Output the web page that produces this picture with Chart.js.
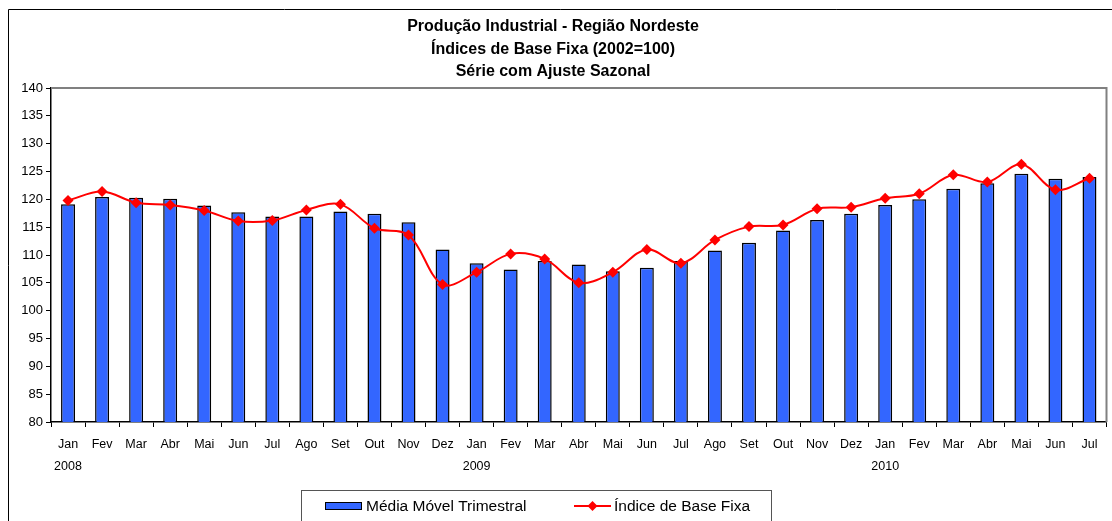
<!DOCTYPE html>
<html>
<head>
<meta charset="utf-8">
<script src="https://cdn.jsdelivr.net/npm/chart.js@4.4.1/dist/chart.umd.min.js"></script>
<style>
  body { margin: 0; background: #fff; }
  canvas { display: block; }
</style>
</head>
<body>
<canvas id="grafico" width="1112" height="521"></canvas>
<script>
const meses = ['Jan','Fev','Mar','Abr','Mai','Jun','Jul','Ago','Set','Out','Nov','Dez',
               'Jan','Fev','Mar','Abr','Mai','Jun','Jul','Ago','Set','Out','Nov','Dez',
               'Jan','Fev','Mar','Abr','Mai','Jun','Jul'];
const anos = { 0: '2008', 12: '2009', 24: '2010' };

const mediaMovel = [119.1,120.4,120.3,120.1,118.9,117.7,116.9,116.9,117.8,117.4,115.9,111.0,
                    108.5,107.4,108.9,108.3,107.1,107.7,108.9,110.8,112.2,114.4,116.3,117.4,
                    119.0,120.0,121.9,122.9,124.6,123.7,124.0];
const indiceBase = [119.8,121.4,119.4,119.0,118.0,116.1,116.2,118.1,119.1,114.8,113.6,104.7,
                    106.9,110.2,109.3,105.0,106.9,111.0,108.5,112.7,115.1,115.4,118.3,118.6,
                    120.2,121.0,124.4,123.1,126.3,121.7,123.8];

const titulo = ['Produção Industrial - Região Nordeste', 'Índices de Base Fixa (2002=100)', 'Série com Ajuste Sazonal'];
const nomeBarras = 'Média Móvel Trimestral';
const nomeLinha = 'Índice de Base Fixa';

const rotulos = meses.map((m, i) => anos[i] ? [m, anos[i]] : m);

Chart.defaults.font.family = "'Liberation Sans', Arial, sans-serif";
Chart.defaults.color = '#000';

const desenhoExtra = {
  id: 'desenhoExtra',
  afterDraw(chart) {
    const ctx = chart.ctx;
    const area = chart.chartArea;
    ctx.save();
    // moldura externa
    ctx.strokeStyle = '#000';
    ctx.lineWidth = 1;
    ctx.beginPath();
    ctx.moveTo(8.5, 530);
    ctx.lineTo(8.5, 9.5);
    ctx.lineTo(1120, 9.5);
    ctx.stroke();
    // borda cinza do grafico
    ctx.strokeStyle = '#808080';
    ctx.lineWidth = 2;
    ctx.beginPath();
    ctx.moveTo(area.left, area.top);
    ctx.lineTo(area.right, area.top);
    ctx.lineTo(area.right, area.bottom);
    ctx.stroke();
    // titulo
    ctx.fillStyle = '#000';
    ctx.font = "bold 16px 'Liberation Sans', Arial, sans-serif";
    ctx.textAlign = 'center';
    ctx.textBaseline = 'middle';
    titulo.forEach((t, i) => ctx.fillText(t, 553, 27 + i * 22.5));
    // legenda
    ctx.strokeStyle = '#555';
    ctx.lineWidth = 1;
    ctx.strokeRect(301.5, 490.5, 470, 50);
    ctx.fillStyle = '#3366FF';
    ctx.fillRect(325, 502, 37, 8);
    ctx.strokeStyle = '#000';
    ctx.strokeRect(325.5, 502.5, 36, 7);
    ctx.fillStyle = '#000';
    ctx.font = "15.5px 'Liberation Sans', Arial, sans-serif";
    ctx.textAlign = 'left';
    ctx.fillText(nomeBarras, 366, 507);
    ctx.strokeStyle = '#FF0000';
    ctx.lineWidth = 2;
    ctx.beginPath();
    ctx.moveTo(574, 506);
    ctx.lineTo(611, 506);
    ctx.stroke();
    ctx.fillStyle = '#FF0000';
    ctx.beginPath();
    ctx.moveTo(592.5, 501);
    ctx.lineTo(597.5, 506);
    ctx.lineTo(592.5, 511);
    ctx.lineTo(587.5, 506);
    ctx.closePath();
    ctx.fill();
    ctx.fillStyle = '#000';
    ctx.fillText(nomeLinha, 614, 507);
    ctx.restore();
  }
};

new Chart(document.getElementById('grafico'), {
  type: 'bar',
  data: {
    labels: rotulos,
    datasets: [
      {
        type: 'line',
        label: nomeLinha,
        data: indiceBase,
        borderColor: '#FF0000',
        backgroundColor: '#FF0000',
        borderWidth: 2,
        pointStyle: 'rectRot',
        pointRadius: 5.5,
        pointBorderWidth: 0,
        tension: 0.35,
        order: 0
      },
      {
        type: 'bar',
        label: nomeBarras,
        data: mediaMovel,
        backgroundColor: '#3366FF',
        borderColor: '#000',
        borderWidth: 1.5,
        categoryPercentage: 1,
        barPercentage: 0.41,
        order: 1
      }
    ]
  },
  options: {
    responsive: false,
    animation: false,
    layout: { padding: { top: 88, right: 3, left: 0, bottom: 0 } },
    plugins: {
      legend: { display: false },
      title: { display: false },
      tooltip: { enabled: false }
    },
    scales: {
      x: {
        offset: true,
        afterFit(scale) { scale.height = 99; },
        border: { color: '#000', width: 1.5 },
        grid: { offset: true, drawOnChartArea: false, drawTicks: true, tickLength: 5, color: '#000' },
        ticks: {
          autoSkip: false,
          maxRotation: 0,
          padding: 7,
          font: { size: 12.5, lineHeight: 1.75 },
          color: '#000'
        }
      },
      y: {
        min: 80,
        max: 140,
        afterFit(scale) { scale.width = 51; },
        border: { color: '#000', width: 1.5 },
        grid: { drawOnChartArea: false, drawTicks: true, tickLength: 5, color: '#000' },
        ticks: { stepSize: 5, padding: 3, font: { size: 13 }, color: '#000' }
      }
    }
  },
  plugins: [desenhoExtra]
});
</script>
</body>
</html>
